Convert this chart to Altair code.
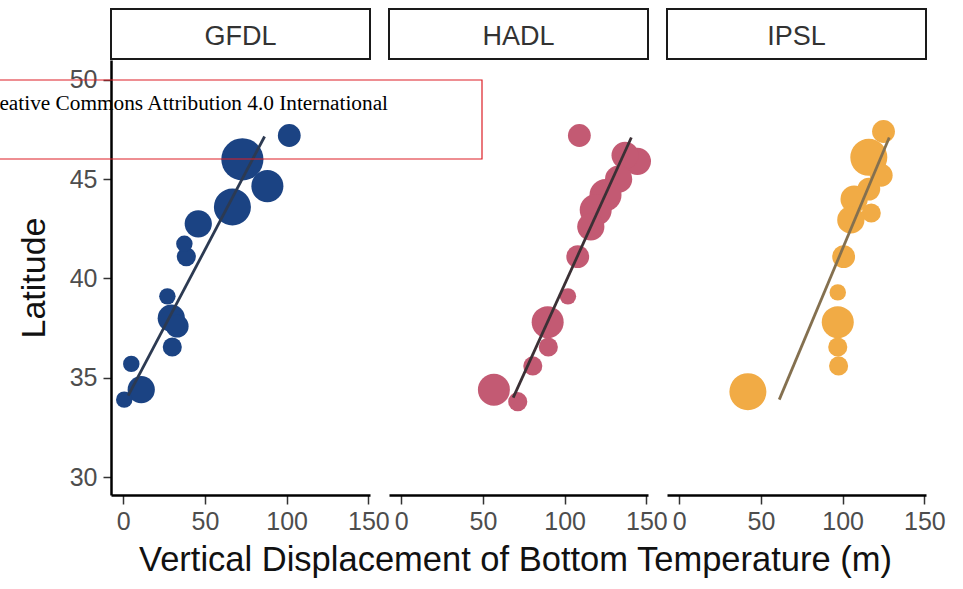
import altair as alt
import pandas as pd

# ---------------- data ----------------
models = ["GFDL", "HADL", "IPSL"]
point_colors = {"GFDL": "#1b4383", "HADL": "#c35a73", "IPSL": "#f1ab45"}
line_colors = {"GFDL": "#2c3a52", "HADL": "#3b3035", "IPSL": "#84704f"}

x_ticks = [0, 50, 100, 150]
y_ticks = [30, 35, 40, 45, 50]

x_title = "Vertical Displacement of Bottom Temperature (m)"
y_title = "Latitude"
license_text = "Creative Commons Attribution 4.0 International"

gfdl_disp = [101.6, 72.9, 88.2, 66.8, 45.9, 38.6, 37.4, 27.0, 29.4, 33.0, 30.0, 4.9, 11.0, 0.6]
gfdl_lat = [47.2, 46.0, 44.65, 43.6, 42.75, 41.1, 41.75, 39.1, 38.0, 37.6, 36.55, 35.7, 34.4, 33.9]
gfdl_n = [3, 7, 5, 6, 4, 2, 1, 1, 4, 3, 2, 1, 4, 1]

hadl_disp = [109, 144.5, 137, 133, 125, 119, 116, 108, 102, 89.6, 90, 80.5, 56.7, 71.3]
hadl_lat = [47.2, 45.9, 46.2, 45.0, 44.2, 43.45, 42.6, 41.1, 39.1, 37.8, 36.55, 35.6, 34.4, 33.8]
hadl_n = [3, 4, 4, 4, 5, 5, 4, 3, 1, 5, 2, 2, 5, 2]

ipsl_disp = [125, 116, 123.6, 116, 107, 117.5, 105, 100.6, 97, 97, 97, 97.5, 42]
ipsl_lat = [47.4, 46.1, 45.2, 44.5, 44.0, 43.3, 42.95, 41.1, 39.3, 37.8, 36.55, 35.6, 34.3]
ipsl_n = [3, 6, 3, 3, 4, 2, 4, 3, 1, 5, 2, 2, 6]

# fitted line end points (displacement, latitude)
gfdl_fit_disp = [3.0, 86.5]
gfdl_fit_lat = [34.1, 47.15]
hadl_fit_disp = [68.5, 140.8]
hadl_fit_lat = [34.0, 47.1]
ipsl_fit_disp = [61.2, 128.5]
ipsl_fit_lat = [33.9, 47.1]

series = {
    "GFDL": (gfdl_disp, gfdl_lat, gfdl_n, gfdl_fit_disp, gfdl_fit_lat),
    "HADL": (hadl_disp, hadl_lat, hadl_n, hadl_fit_disp, hadl_fit_lat),
    "IPSL": (ipsl_disp, ipsl_lat, ipsl_n, ipsl_fit_disp, ipsl_fit_lat),
}

# ---------------- layout / style ----------------
W, H = 259, 435
XDOM = [-7.5, 151]
YDOM = [29.1, 51.0]
FONT = "Liberation Sans"


def x_axis(title):
    kw = dict(
        values=x_ticks, grid=False, domainColor="black", domainWidth=2.5,
        tickColor="#333333", tickWidth=1.5, tickSize=9,
        labelFont=FONT, labelFontSize=25, labelColor="#4d4d4d", labelPadding=5,
        labelOverlap=False, labelFlush=False,
        titleFont=FONT, titleFontSize=34.5, titleFontWeight="normal",
        titleColor="#111111", titlePadding=9, titleX=126,
    )
    return alt.Axis(title=title, **kw)


def y_axis():
    return alt.Axis(
        values=y_ticks, title=y_title, grid=False, domainColor="black",
        domainWidth=2.5, tickColor="#333333", tickWidth=1.5, tickSize=8,
        labelFont=FONT, labelFontSize=25, labelColor="#4d4d4d", labelPadding=6,
        titleFont=FONT, titleFontSize=34, titleFontWeight="normal",
        titleColor="#111111", titlePadding=18,
    )


def panel(model, first, xtitle):
    disp, lat, n, fdisp, flat = series[model]
    pts = pd.DataFrame({"disp": disp, "lat": lat, "n": n})
    fit = pd.DataFrame({"disp": fdisp, "lat": flat})
    strip = pd.DataFrame({"model": [model]})

    xs = alt.Scale(domain=XDOM, nice=False, zero=False)
    ys = alt.Scale(domain=YDOM, nice=False, zero=False)
    xenc = alt.X("disp:Q", scale=xs, axis=x_axis(xtitle))
    yenc = alt.Y("lat:Q", scale=ys, axis=y_axis() if first else None)

    box = alt.Chart(strip).mark_rect(
        fill="white", stroke="#1a1a1a", strokeWidth=2
    ).encode(x=alt.value(0), x2=alt.value(W), y=alt.value(-51), y2=alt.value(-1))
    label = alt.Chart(strip).mark_text(
        font=FONT, fontSize=27, color="#333333", baseline="middle", align="center"
    ).encode(x=alt.value(W / 2), y=alt.value(-23), text="model:N")

    points = alt.Chart(pts).mark_circle(
        opacity=1, color=point_colors[model]
    ).encode(
        x=xenc, y=yenc,
        size=alt.Size("n:Q", scale=alt.Scale(type="pow", exponent=2, domain=[1, 7],
                                             range=[270, 1780]), legend=None),
    )
    line = alt.Chart(fit).mark_line(
        color=line_colors[model], strokeWidth=2.8
    ).encode(x=xenc, y=yenc)

    layers = [box, label, points, line]
    if first:
        note = pd.DataFrame({"t": [license_text]})
        frame = alt.Chart(note).mark_rect(
            fillOpacity=0, stroke="#dd1f26", strokeWidth=1.2
        ).encode(x=alt.value(-150), x2=alt.value(371), y=alt.value(20), y2=alt.value(99))
        txt = alt.Chart(note).mark_text(
            font="Liberation Serif", fontSize=21.3, color="black",
            align="right", baseline="alphabetic"
        ).encode(x=alt.value(277), y=alt.value(50), text="t:N")
        layers += [frame, txt]
    return alt.layer(*layers).properties(width=W, height=H)


chart = alt.hconcat(
    panel("GFDL", True, None),
    panel("HADL", False, x_title),
    panel("IPSL", False, None),
    spacing=19,
    bounds="flush",
).properties(
    padding={"left": -40, "top": 8, "right": 5, "bottom": 5},
    background="white",
).configure_view(strokeWidth=0)

chart.save("out.html", embed_options={"renderer": "svg", "actions": False})
